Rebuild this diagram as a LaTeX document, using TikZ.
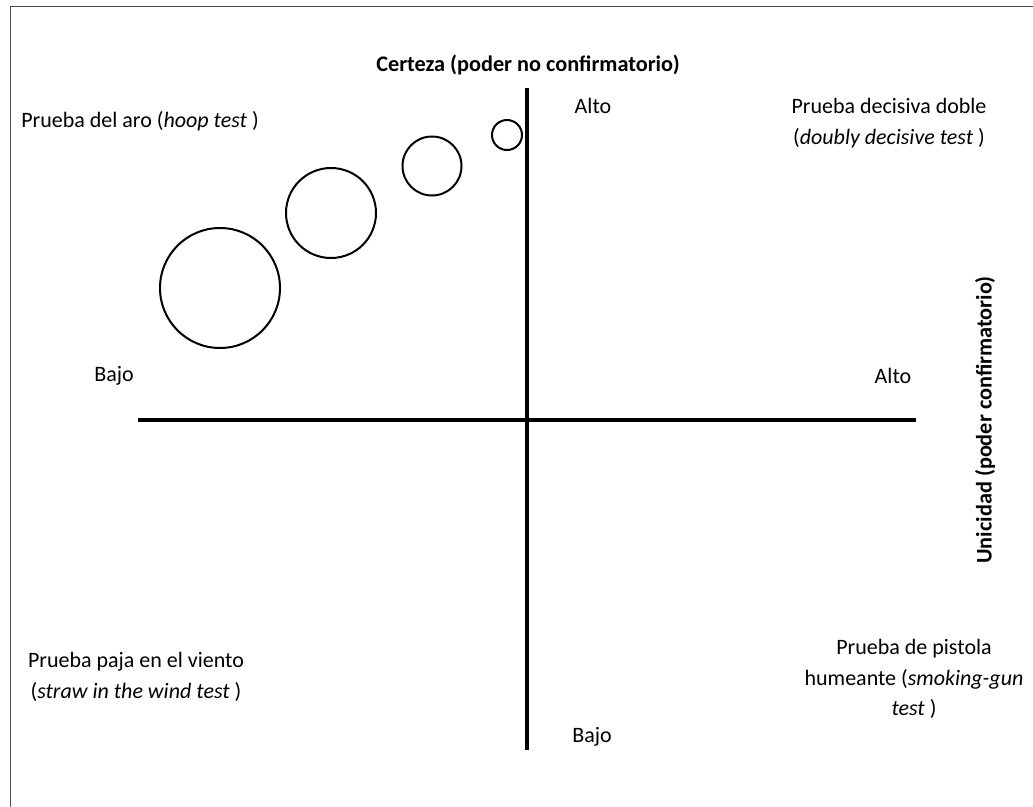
\documentclass[tikz,border=0pt]{standalone}
\usepackage{fontspec}
\setmainfont{Carlito}
\begin{document}
\begin{tikzpicture}[x=0.75pt,y=-0.75pt,
  lbl/.style={inner sep=0pt,font=\fontsize{16.5}{22.8}\selectfont,align=center},
  boldlbl/.style={inner sep=0pt,font=\fontsize{16.7}{22.8}\selectfont\bfseries},
  axisline/.style={line width=2.3pt},
  ring/.style={draw,line width=1.5pt},
  frameline/.style={draw=black!70,line width=0.9pt}]
\useasboundingbox (0,0) rectangle (1033,807);
\draw[frameline] (10.5,807) -- (10.5,6.5) -- (1033,6.5);
% axes
\coordinate (vtop) at (527,88);
\coordinate (vbot) at (527,750);
\coordinate (hl) at (138,420);
\coordinate (hr) at (916,420);
\draw[axisline] (vtop) -- (vbot);
\draw[axisline] (hl) -- (hr);
% circles
\node[ring,circle,minimum size=120*0.75pt,inner sep=0pt] (c1) at (220,288) {};
\node[ring,circle,minimum size=90*0.75pt,inner sep=0pt] (c2) at (331,213) {};
\node[ring,circle,minimum size=59*0.75pt,inner sep=0pt] (c3) at (432,166) {};
\node[ring,circle,minimum size=30*0.75pt,inner sep=0pt] (c4) at (507,135) {};
% labels
\node[boldlbl] (title) at (528,65) {Certeza (poder no confirmatorio)};
\node[boldlbl,rotate=90] (ytitle) at (985,420) {Unicidad (poder confirmatorio)};
\node[lbl] (altoT) at (593,106) {Alto};
\node[lbl] (bajoB) at (592,737) {Bajo};
\node[lbl] (bajoL) at (114,376) {Bajo};
\node[lbl] (altoR) at (893,376) {Alto};
\node[lbl,anchor=west] (hoop) at (21,121) {Prueba del aro (\textit{hoop test} )};
\node[lbl] (dd) at (889,123) {Prueba decisiva doble\\(\textit{doubly decisive test} )};
\node[lbl] (straw) at (136,677) {Prueba paja en el viento\\(\textit{straw in the wind test} )};
\node[lbl] (smoke) at (914,679) {Prueba de pistola\\humeante (\textit{smoking-gun}\\\textit{test} )};
\end{tikzpicture}
\end{document}
